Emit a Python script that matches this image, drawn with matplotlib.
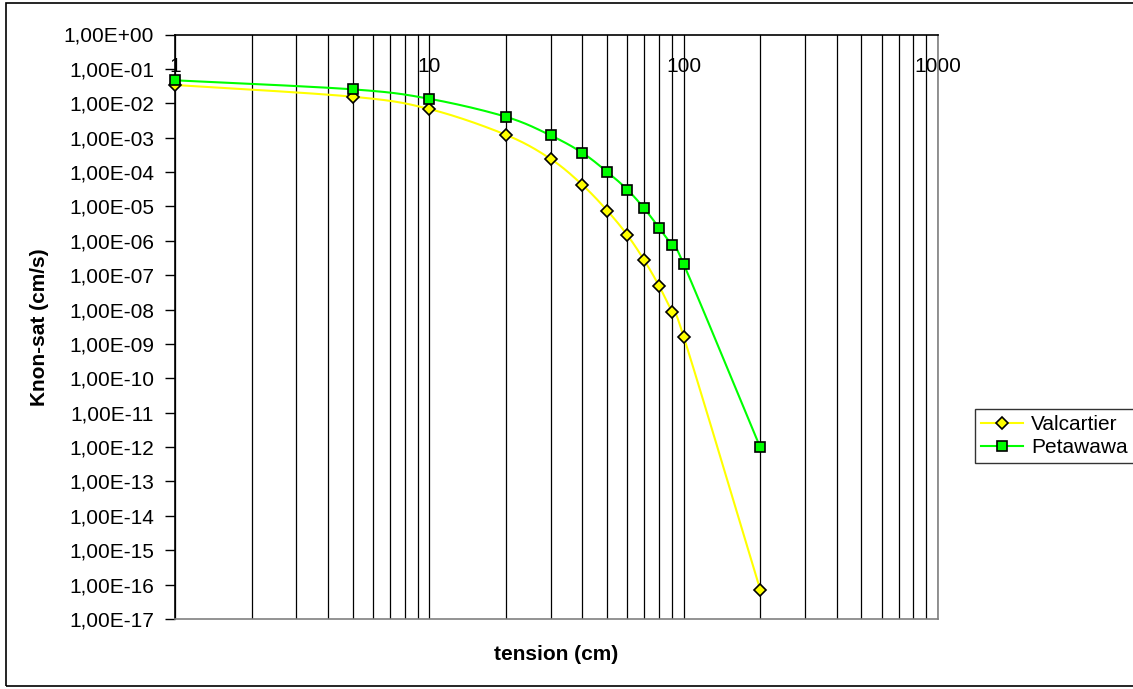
import matplotlib
matplotlib.use("Agg")
import matplotlib.pyplot as plt
import numpy as np
from matplotlib.ticker import FuncFormatter, LogLocator, NullFormatter, NullLocator
from matplotlib.patches import Rectangle

plt.rcParams['font.family'] = ['Liberation Sans', 'DejaVu Sans']

# data
tension = [1, 5, 10, 20, 30, 40, 50, 60, 70, 80, 90, 100, 200]
k_valcartier = [3.4e-2, 1.55e-2, 6.8e-3, 1.21e-3, 2.4e-4, 4.2e-5, 7.6e-6,
                1.48e-6, 2.7e-7, 4.9e-8, 8.5e-9, 1.63e-9, 7.1e-17]
k_petawawa = [4.65e-2, 2.54e-2, 1.35e-2, 4.05e-3, 1.16e-3, 3.6e-4, 1.01e-4,
              3.1e-5, 8.7e-6, 2.4e-6, 7.4e-7, 2.1e-7, 9.8e-13]


# excel-like smoothed line (bezier through the points, in log-log space)
def smooth(x, y, n=30):
    lx = np.log10(x)
    ly = np.log10(y)
    pts = np.column_stack([lx, ly])
    out = []
    for i in range(len(pts) - 1):
        p0 = pts[i - 1] if i > 0 else pts[i]
        p1 = pts[i]
        p2 = pts[i + 1]
        p3 = pts[i + 2] if i + 2 < len(pts) else pts[i + 1]
        c1 = p1 + (p2 - p0) / 6
        c2 = p2 - (p3 - p1) / 6
        t = np.linspace(0, 1, n)[:, None]
        seg = ((1 - t) ** 3) * p1 + 3 * ((1 - t) ** 2) * t * c1 + 3 * (1 - t) * t ** 2 * c2 + t ** 3 * p2
        out.append(seg)
    out = np.vstack(out)
    return 10 ** out[:, 0], 10 ** out[:, 1]


fig = plt.figure(figsize=(11.33, 6.89), dpi=100)
ax = fig.add_axes([175 / 1133, 70 / 689, 763 / 1133, 584.5 / 689])

ax.set_xscale('log')
ax.set_yscale('log')
ax.set_xlim(1, 1000)
ax.set_ylim(1e-17, 1)

sx, sy = smooth(tension, k_valcartier)
ax.plot(sx, sy, color='#FFFF00', lw=1.5, zorder=3)
ax.plot(tension, k_valcartier, ls='none', marker='D', ms=6.5, mfc='#FFFF00',
        mec='black', mew=1.2, zorder=4, clip_on=False)
sx, sy = smooth(tension, k_petawawa)
ax.plot(sx, sy, color='#00FF00', lw=1.5, zorder=3)
ax.plot(tension, k_petawawa, ls='none', marker='s', ms=7, mfc='#00FF00',
        mec='black', mew=1.2, zorder=4, clip_on=False)

# legend handles
ax.plot([], [], color='#FFFF00', lw=1.5, marker='D', ms=6.5, mfc='#FFFF00',
        mec='black', mew=1.2, label='Valcartier')
ax.plot([], [], color='#00FF00', lw=1.5, marker='s', ms=7, mfc='#00FF00',
        mec='black', mew=1.2, label='Petawawa')

# vertical grid, major + minor
ax.xaxis.set_major_locator(LogLocator(base=10, numticks=10))
ax.xaxis.set_minor_locator(LogLocator(base=10, subs=range(2, 10), numticks=10))
ax.xaxis.set_minor_formatter(NullFormatter())
ax.xaxis.set_major_formatter(FuncFormatter(lambda v, p: '%d' % round(v)))
ax.grid(True, which='both', axis='x', color='black', lw=0.9)
ax.tick_params(axis='x', which='both', length=0, top=False, bottom=False,
               labeltop=True, labelbottom=False, pad=-30, labelsize=15)

ax.yaxis.set_major_locator(LogLocator(base=10, numticks=30))
ax.yaxis.set_minor_locator(NullLocator())
ax.yaxis.set_major_formatter(FuncFormatter(lambda v, p: ('%.2E' % v).replace('.', ',')))
ax.tick_params(axis='y', direction='out', length=7, width=1, pad=8, labelsize=15)

ax.spines['top'].set_color('black')
ax.spines['left'].set_color('black')
ax.spines['bottom'].set_color('#808080')
ax.spines['right'].set_color('#808080')
for s in ax.spines.values():
    s.set_linewidth(1.2)

fig.text(556 / 1133, 1 - 655 / 689, 'tension (cm)', ha='center', va='center',
         fontsize=15, fontweight='bold')
fig.text(40 / 1133, 1 - 327 / 689, 'Knon-sat (cm/s)', ha='center', va='center',
         rotation=90, fontsize=15, fontweight='bold')

leg = ax.legend(loc='center left', bbox_to_anchor=(975 / 1133, 1 - 436 / 689),
                bbox_transform=fig.transFigure, fontsize=15, frameon=True,
                fancybox=False, edgecolor='black', handlelength=2.0,
                handletextpad=0.4, borderpad=0.3, labelspacing=0.2, borderaxespad=0)
leg.get_frame().set_linewidth(1.0)

fig.add_artist(Rectangle((6 / 1133, 3 / 689), 1.2, 683 / 689, transform=fig.transFigure,
                         fill=False, lw=1.2, ec='black'))

fig.savefig('out.png', dpi=100)
